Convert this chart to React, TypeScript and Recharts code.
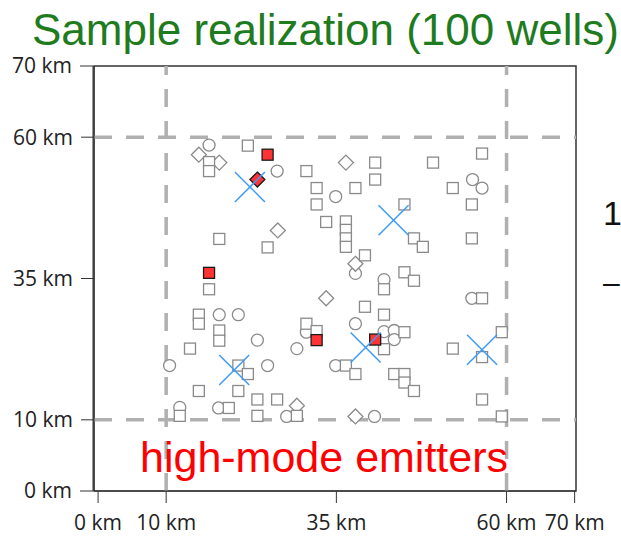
import React from 'react';
import { ScatterChart, Scatter, XAxis, YAxis, ReferenceLine, ReferenceArea } from 'recharts';

// axis setup (km)
const xTicks = [0, 10, 35, 60, 70];
const yOuterTicks = [0, 70];
const yInnerTicks = [10, 35, 60];
const boxEdges = [10, 60];
const xDomain = [-0.6, 70.2];
const yOuterDomain = [0, 70];
const yInnerDomain = [-2.59, 72.59];

// grey wells by marker type
const squareWells = [
  { x: 16.3, y: 55.6 }, { x: 16.3, y: 54.0 }, { x: 22.0, y: 58.5 }, { x: 17.8, y: 42.0 },
  { x: 24.9, y: 40.5 }, { x: 30.6, y: 54.0 }, { x: 40.7, y: 55.5 }, { x: 40.7, y: 52.5 },
  { x: 32.1, y: 51.0 }, { x: 37.8, y: 51.0 }, { x: 32.1, y: 48.1 }, { x: 45.0, y: 48.1 },
  { x: 33.5, y: 45.0 }, { x: 36.4, y: 45.1 }, { x: 36.4, y: 43.6 }, { x: 36.4, y: 42.1 },
  { x: 36.4, y: 40.6 }, { x: 46.4, y: 42.1 }, { x: 47.7, y: 40.6 }, { x: 39.2, y: 39.1 },
  { x: 45.0, y: 36.1 }, { x: 46.4, y: 34.6 }, { x: 42.0, y: 33.1 }, { x: 49.2, y: 55.5 },
  { x: 56.4, y: 57.1 }, { x: 52.1, y: 51.0 }, { x: 54.9, y: 48.1 }, { x: 54.9, y: 42.1 },
  { x: 16.3, y: 33.1 }, { x: 14.8, y: 28.6 }, { x: 14.8, y: 27.0 }, { x: 17.8, y: 25.8 },
  { x: 17.8, y: 24.0 }, { x: 13.5, y: 22.6 }, { x: 20.6, y: 19.6 }, { x: 22.0, y: 18.1 },
  { x: 14.8, y: 15.1 }, { x: 20.6, y: 15.1 }, { x: 23.4, y: 13.6 }, { x: 26.3, y: 13.6 },
  { x: 12.0, y: 10.7 }, { x: 19.2, y: 12.1 }, { x: 23.4, y: 10.7 }, { x: 29.2, y: 10.7 },
  { x: 39.2, y: 30.0 }, { x: 42.0, y: 28.6 }, { x: 30.6, y: 27.0 }, { x: 32.1, y: 25.7 },
  { x: 45.0, y: 25.5 }, { x: 42.0, y: 22.5 }, { x: 36.4, y: 19.6 }, { x: 37.8, y: 18.1 },
  { x: 43.5, y: 18.1 }, { x: 45.0, y: 18.1 }, { x: 45.0, y: 16.6 }, { x: 46.4, y: 15.1 },
  { x: 56.4, y: 31.5 }, { x: 52.1, y: 22.6 }, { x: 59.3, y: 25.5 }, { x: 56.4, y: 21.1 },
  { x: 56.4, y: 13.6 }, { x: 59.3, y: 10.6 },
];

const circleWells = [
  { x: 16.3, y: 58.6 }, { x: 26.3, y: 54.0 }, { x: 34.9, y: 49.5 }, { x: 55.0, y: 52.5 },
  { x: 56.4, y: 51.0 }, { x: 37.8, y: 35.9 }, { x: 42.0, y: 34.8 }, { x: 17.8, y: 28.6 },
  { x: 20.6, y: 28.6 }, { x: 23.4, y: 24.1 }, { x: 10.5, y: 19.6 }, { x: 24.9, y: 19.6 },
  { x: 12.0, y: 12.2 }, { x: 17.7, y: 12.1 }, { x: 27.7, y: 10.6 }, { x: 30.6, y: 25.5 },
  { x: 29.2, y: 22.6 }, { x: 37.8, y: 27.0 }, { x: 42.0, y: 25.6 }, { x: 43.5, y: 25.8 },
  { x: 43.5, y: 24.2 }, { x: 34.9, y: 19.6 }, { x: 40.6, y: 10.6 }, { x: 54.9, y: 31.5 },
];

const diamondWells = [
  { x: 14.8, y: 56.9 }, { x: 17.8, y: 55.5 }, { x: 26.4, y: 43.5 }, { x: 36.4, y: 55.5 },
  { x: 37.8, y: 37.6 }, { x: 33.5, y: 31.5 }, { x: 29.2, y: 12.5 }, { x: 37.8, y: 10.6 },
];

// high-mode emitters
const redSquares = [
  { x: 24.9, y: 56.9 }, { x: 16.3, y: 36.0 }, { x: 32.1, y: 24.1 }, { x: 40.7, y: 24.2 },
];
const redDiamonds = [{ x: 23.4, y: 52.5 }];

// blue crosses
const crossPoints = [
  { x: 22.3, y: 51.2 }, { x: 43.4, y: 45.3 }, { x: 20.0, y: 18.8 }, { x: 39.3, y: 22.8 }, { x: 56.4, y: 22.4 },
];

const GREY = '#8a8a8a';

const drawSquare = (fill: string, stroke: string) => (p: any) => (
  <rect x={p.cx - 5.5} y={p.cy - 5.5} width={11} height={11} fill={fill} stroke={stroke} strokeWidth={1.3} />
);
const drawDiamond = (fill: string, stroke: string) => (p: any) => (
  <polygon
    points={`${p.cx},${p.cy - 7.5} ${p.cx + 7.5},${p.cy} ${p.cx},${p.cy + 7.5} ${p.cx - 7.5},${p.cy}`}
    fill={fill}
    stroke={stroke}
    strokeWidth={1.3}
  />
);
const drawCircle = (p: any) => <circle cx={p.cx} cy={p.cy} r={6} fill="#fff" stroke={GREY} strokeWidth={1.3} />;
const drawCross = (p: any) => (
  <g stroke="#3d9bf5" strokeWidth={1.5}>
    <line x1={p.cx - 15} y1={p.cy - 15} x2={p.cx + 15} y2={p.cy + 15} />
    <line x1={p.cx - 15} y1={p.cy + 15} x2={p.cx + 15} y2={p.cy - 15} />
  </g>
);

const tickStyle = { fill: '#222', fontSize: 21, fontFamily: 'Open Sans' };
const km = (v: number) => `${v} km`;

// y tick without wrapping (axis is only 1px wide)
const YTick = (p: any) => (
  <text x={p.x} y={p.y} dy="0.35em" textAnchor="end" fill="#222" fontSize={21} fontFamily="Open Sans">
    {km(p.payload.value)}
  </text>
);

export default function App() {
  return (
    <div style={{ position: 'absolute', left: 0, top: 0, width: 621, height: 537, overflow: 'hidden', background: '#fff' }}>
      <ScatterChart width={621} height={537} margin={{ top: 66, right: 45, bottom: 45, left: 92 }}>
        <XAxis
          type="number"
          dataKey="x"
          domain={xDomain}
          allowDataOverflow
          ticks={xTicks}
          tickFormatter={km}
          height={1}
          tickSize={12}
          tickMargin={12}
          tick={tickStyle}
          stroke="#333"
        />
        <YAxis
          yAxisId="inner"
          type="number"
          dataKey="y"
          domain={yInnerDomain}
          allowDataOverflow
          ticks={yInnerTicks}
          width={1}
          tickSize={13}
          tickMargin={8}
          tick={<YTick />}
          stroke="#333"
        />
        <YAxis
          yAxisId="outer"
          type="number"
          dataKey="y"
          domain={yOuterDomain}
          allowDataOverflow
          ticks={yOuterTicks}
          width={1}
          tickSize={13}
          tickMargin={8}
          tick={<YTick />}
          stroke="#333"
        />
        <ReferenceArea
          yAxisId="outer"
          x1={xDomain[0]}
          x2={xDomain[1]}
          y1={yOuterDomain[0]}
          y2={yOuterDomain[1]}
          fill="none"
          fillOpacity={0}
          stroke="#333"
          strokeWidth={1.5}
        />
        {boxEdges.map((v) => (
          <ReferenceLine key={'h' + v} yAxisId="inner" y={v} stroke="#b0b0b0" strokeWidth={3.5} strokeDasharray="18 14" />
        ))}
        {boxEdges.map((v) => (
          <ReferenceLine key={'v' + v} yAxisId="inner" x={v} stroke="#b0b0b0" strokeWidth={3.5} strokeDasharray="18 14" />
        ))}
        <Scatter yAxisId="inner" data={circleWells} shape={drawCircle} isAnimationActive={false} />
        <Scatter yAxisId="inner" data={diamondWells} shape={drawDiamond('#fff', GREY)} isAnimationActive={false} />
        <Scatter yAxisId="inner" data={squareWells} shape={drawSquare('#fff', GREY)} isAnimationActive={false} />
        <Scatter yAxisId="inner" data={redSquares} shape={drawSquare('#ff3333', '#1a1a1a')} isAnimationActive={false} />
        <Scatter yAxisId="inner" data={redDiamonds} shape={drawDiamond('#ff3333', '#1a1a1a')} isAnimationActive={false} />
        <Scatter yAxisId="inner" data={crossPoints} shape={drawCross} isAnimationActive={false} />
      </ScatterChart>
      <div style={{ position: 'absolute', left: 32, top: 8, fontFamily: 'Liberation Sans', fontSize: 44, lineHeight: 1, color: '#1e7b1e', whiteSpace: 'nowrap' }}>
        Sample realization (100 wells)
      </div>
      <div style={{ position: 'absolute', left: 140, top: 436, fontFamily: 'Liberation Sans', fontSize: 43, lineHeight: 1, color: '#ff0000', whiteSpace: 'nowrap' }}>
        high-mode emitters
      </div>
      <div style={{ position: 'absolute', left: 603, top: 196, fontFamily: 'Liberation Sans', fontSize: 34, lineHeight: 1, color: '#111' }}>1</div>
      <div style={{ position: 'absolute', left: 603, top: 268, fontFamily: 'Liberation Sans', fontSize: 30, lineHeight: 1, color: '#111' }}>–</div>
    </div>
  );
}
